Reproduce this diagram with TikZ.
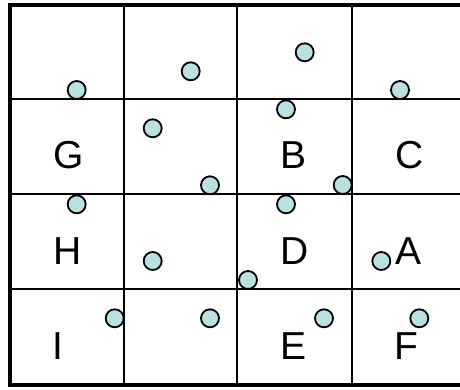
\documentclass[tikz,border=0pt]{standalone}
\usepackage{fontspec}
\setmainfont{Liberation Sans}
\definecolor{dotfill}{RGB}{187,224,227}
\begin{document}
\begin{tikzpicture}[x=1pt,y=-1pt,
  gridline/.style={line width=1.8pt},
  outer/.style={line width=4.5pt},
  dot/.style={circle,draw,line width=1.8pt,fill=dotfill,minimum size=18pt,inner sep=0pt},
  lbl/.style={anchor=base,inner sep=0pt,font=\fontsize{39}{39}\selectfont}]
\clip (0,0) rectangle (460,390);
\fill[white] (0,0) rectangle (460,390);
% grid lines
\draw[gridline] (124,5) -- (124,385);
\draw[gridline] (237.3,5) -- (237.3,385);
\draw[gridline] (352.3,5) -- (352.3,385);
\draw[gridline] (10,99.3) -- (470,99.3);
\draw[gridline] (10,194.3) -- (470,194.3);
\draw[gridline] (10,289) -- (470,289);
\draw[outer] (10,5) rectangle (467,385);
% labels
\node[lbl] (G) at (68.3,168.5) {G};
\node[lbl] (B) at (294,168.5) {B};
\node[lbl] (C) at (409.3,168.5) {C};
\node[lbl] (H) at (67.7,264.5) {H};
\node[lbl] (D) at (295,264.5) {D};
\node[lbl] (A) at (408.3,264.5) {A};
\node[lbl] (I) at (58.3,359.5) {I};
\node[lbl] (E) at (294,359.5) {E};
\node[lbl] (F) at (406,359.5) {F};
% dots
\node[dot] (p1) at (76.7,90) {};
\node[dot] (p2) at (190.7,71.3) {};
\node[dot] (p3) at (152.7,128.3) {};
\node[dot] (p4) at (210,185.3) {};
\node[dot] (p5) at (304.7,52.3) {};
\node[dot] (p6) at (400,90) {};
\node[dot] (p7) at (286,109.3) {};
\node[dot] (p8) at (342.7,185) {};
\node[dot] (p9) at (76.7,204.3) {};
\node[dot] (p10) at (152.7,261) {};
\node[dot] (p11) at (114.7,318.3) {};
\node[dot] (p12) at (210,318.3) {};
\node[dot] (p13) at (286,204.3) {};
\node[dot] (p14) at (248,280) {};
\node[dot] (p15) at (381.3,261) {};
\node[dot] (p16) at (324,318.3) {};
\node[dot] (p17) at (419.3,318.3) {};
\end{tikzpicture}
\end{document}
